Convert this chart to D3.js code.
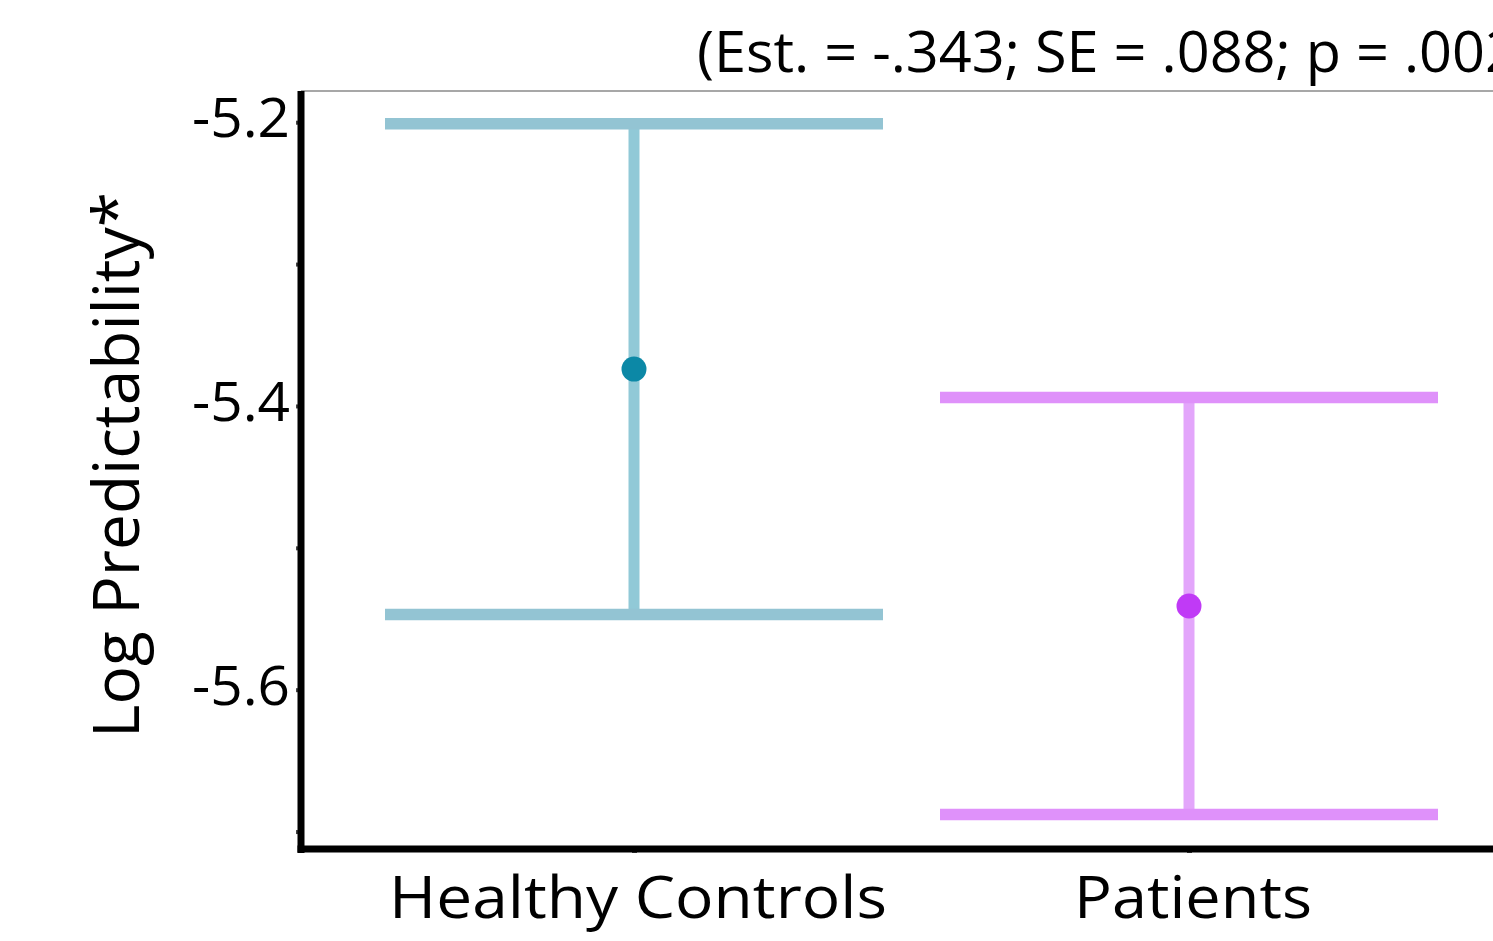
<!DOCTYPE html>
<html>
<head>
<meta charset="utf-8">
<script src="https://cdn.jsdelivr.net/npm/d3@7"></script>
<style>
  html, body { margin: 0; padding: 0; background: #fff; overflow: hidden; }
  svg { display: block; }
  text { font-family: "Open Sans", sans-serif; fill: #000; }
</style>
</head>
<body>
<svg id="chart" width="1493" height="941"></svg>
<script>
// ---- data ----
const groups = ["Healthy Controls", "Patients"];
const means = [-5.374, -5.541];
const lowers = [-5.547, -5.688];
const uppers = [-5.201, -5.394];
const yTicks = [-5.7, -5.6, -5.5, -5.4, -5.3, -5.2];
const yTickLabels = ["", "-5.6", "", "-5.4", "", "-5.2"];
const titleText = "(Est. = -.343; SE = .088; p = .002)";
const yTitle = "Log Predictability*";

// ---- styles ----
const barColors = ["rgb(147,196,211)", "rgb(223,145,250)"];
const pointColors = ["rgb(12,136,166)", "rgb(192,58,246)"];

const svg = d3.select("#chart");
const mLeft = 301, mRight = 1522, mTop = 91, mBottom = 850;

const y = d3.scaleLinear().domain([-5.713, -5.178]).range([mBottom, mTop]);
const x = d3.scalePoint().domain(groups).range([mLeft, mRight]).padding(0.6);
const capHalf = 249;

// top border
svg.append("line").attr("x1", mLeft).attr("x2", 1493).attr("y1", mTop).attr("y2", mTop)
  .attr("stroke", "#8a8a8a").attr("stroke-width", 1.5);

// y axis ticks via d3 axis
const yAxis = d3.axisLeft(y).tickValues(yTicks).tickSize(4).tickFormat("");
const gy = svg.append("g").attr("transform", `translate(${mLeft - 1},0)`).call(yAxis);
gy.select(".domain").remove();
gy.selectAll(".tick line").attr("stroke", "#444").attr("stroke-width", 4);

// y tick labels
svg.selectAll(".ylab").data(yTicks.map((v, i) => ({v, t: yTickLabels[i]})).filter(d => d.t))
  .enter().append("text")
  .attr("x", 290).attr("y", d => y(d.v) + 15)
  .attr("text-anchor", "end")
  .attr("font-size", 55)
  .attr("textLength", 98).attr("lengthAdjust", "spacingAndGlyphs")
  .text(d => d.t);

// x axis ticks (mostly hidden under the axis line)
const xAxis = d3.axisBottom(x).tickSize(2).tickFormat("");
const gx = svg.append("g").attr("transform", `translate(0,${mBottom + 1})`).call(xAxis);
gx.select(".domain").remove();
gx.selectAll(".tick line").attr("stroke", "#444").attr("stroke-width", 5);

// error bars
const g = svg.append("g");
groups.forEach((grp, i) => {
  const cx = x(grp);
  g.append("line").attr("x1", cx).attr("x2", cx).attr("y1", y(uppers[i])).attr("y2", y(lowers[i]))
    .attr("stroke", pointColors[i]).attr("stroke-opacity", 0.45).attr("stroke-width", 11);
  [uppers[i], lowers[i]].forEach(v => {
    g.append("line").attr("x1", cx - capHalf).attr("x2", cx + capHalf).attr("y1", y(v)).attr("y2", y(v))
      .attr("stroke", barColors[i]).attr("stroke-width", 11.5);
  });
  g.append("circle").attr("cx", cx).attr("cy", y(means[i])).attr("r", 12.5).attr("fill", pointColors[i]);
});

// axis lines (thick)
svg.append("line").attr("x1", mLeft).attr("x2", mLeft).attr("y1", mTop).attr("y2", mBottom + 3)
  .attr("stroke", "#000").attr("stroke-width", 7);
svg.append("line").attr("x1", mLeft - 3.5).attr("x2", 1493).attr("y1", mBottom - 1).attr("y2", mBottom - 1)
  .attr("stroke", "#000").attr("stroke-width", 7);

// x labels
const xlw = {"Healthy Controls": 498, "Patients": 238};
svg.selectAll(".xlab").data(groups).enter().append("text")
  .attr("x", d => x(d) + 4).attr("y", 918)
  .attr("text-anchor", "middle")
  .attr("font-size", 59)
  .attr("textLength", d => xlw[d]).attr("lengthAdjust", "spacingAndGlyphs")
  .text(d => d);

// y title
svg.append("text")
  .attr("transform", "translate(139,465) rotate(-90)")
  .attr("text-anchor", "middle")
  .attr("font-size", 64)
  .attr("textLength", 546).attr("lengthAdjust", "spacingAndGlyphs")
  .text(yTitle);

// title (runs past the right edge, as in the reference)
svg.append("text")
  .attr("x", 697).attr("y", 72)
  .attr("font-size", 56)
  .attr("textLength", 838).attr("lengthAdjust", "spacingAndGlyphs")
  .text(titleText);
</script>
</body>
</html>
